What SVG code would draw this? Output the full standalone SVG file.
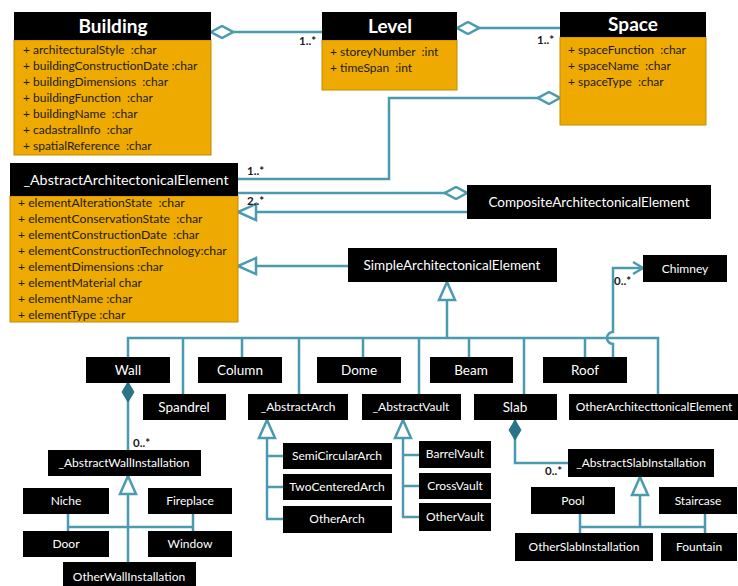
<svg xmlns="http://www.w3.org/2000/svg" width="738" height="586" viewBox="0 0 738 586">
<style>
.bg{fill:#ffffff}
.hdr{fill:#000000}
.body{fill:#eeaa00;stroke:#c48a00;stroke-width:1}
.node{fill:#000000}
.ttl{font-family:Lato,"Open Sans",sans-serif;font-size:19px;font-weight:bold;fill:#ffffff;text-anchor:middle}
.t{font-family:Lato,"Open Sans",sans-serif;font-size:13.5px;fill:#ffffff;text-anchor:middle}
.ts{font-family:Lato,"Open Sans",sans-serif;font-size:12px;fill:#ffffff;text-anchor:middle}
.at{font-family:Lato,"Open Sans",sans-serif;font-size:12px;fill:#1a1a1a;white-space:pre}
.at2{font-family:Lato,"Open Sans",sans-serif;font-size:12.2px;fill:#1a1a1a;white-space:pre}
.m{font-family:Lato,"Open Sans",sans-serif;font-size:11.5px;font-weight:bold;fill:#1a1a1a}
.ln{fill:none;stroke:#4a9bb0;stroke-width:2.5}
</style>
<defs>
<marker id="agg" markerUnits="userSpaceOnUse" markerWidth="24" markerHeight="14" viewBox="-1 -1 24 14" refX="0" refY="6" orient="auto">
<polygon points="0,6 11,0 22,6 11,12" fill="#ffffff" stroke="#4a9bb0" stroke-width="2.5"/>
</marker>
<marker id="comp" markerUnits="userSpaceOnUse" markerWidth="22" markerHeight="14" viewBox="-1 -1 22 14" refX="0" refY="6" orient="auto">
<polygon points="0,6 10,0 20,6 10,12" fill="#2b7386" stroke="#2b7386" stroke-width="1"/>
</marker>
<marker id="gen" markerUnits="userSpaceOnUse" markerWidth="22" markerHeight="20" viewBox="-2 -2 22 20" refX="18" refY="8" orient="auto">
<polygon points="0,0 18,8 0,16" fill="#ffffff" stroke="#4a9bb0" stroke-width="2.5"/>
</marker>
<marker id="arr" markerUnits="userSpaceOnUse" markerWidth="14" markerHeight="16" viewBox="-2 -2 14 16" refX="10" refY="6" orient="auto">
<polyline points="0,0 10,6 0,12" fill="none" stroke="#4a9bb0" stroke-width="2.5"/>
</marker>
</defs>
<rect class="bg" x="0" y="0" width="738" height="586"/>

<g id="connectors">
<path class="ln" d="M211,32 H322" marker-start="url(#agg)"/>
<path class="ln" d="M457,28 H560" marker-start="url(#agg)"/>
<path class="ln" d="M560,98 H389 V179 H238" marker-start="url(#agg)"/>
<path class="ln" d="M467,193 H238" marker-start="url(#agg)"/>
<path class="ln" d="M467,212 H238" marker-end="url(#gen)"/>
<path class="ln" d="M348,266 H238" marker-end="url(#gen)"/>
<path class="ln" d="M128,357 V338 H658 V394"/>
<path class="ln" d="M183,338 V394 M242,338 V357 M299,338 V394 M363,338 V357 M419,338 V394 M469,338 V357 M524,338 V394 M585,338 V357"/>
<path class="ln" d="M447,338 V282" marker-end="url(#gen)"/>
<path class="ln" d="M613,357 V344 A6,6 0 0 1 613,332 V268 H643" marker-end="url(#arr)"/>
<path class="ln" d="M128,382 V450" marker-start="url(#comp)"/>
<path class="ln" d="M128,562 V476" marker-end="url(#gen)"/>
<path class="ln" d="M68,514 V531 M193,514 V531 M68,527 H193"/>
<path class="ln" d="M267,519 V420" marker-end="url(#gen)"/>
<path class="ln" d="M267,456 H283 M267,487 H283 M266,519 H283"/>
<path class="ln" d="M403,517 V420" marker-end="url(#gen)"/>
<path class="ln" d="M403,455 H419 M403,486 H419 M402,517 H419"/>
<path class="ln" d="M515,420 V463 H568" marker-start="url(#comp)"/>
<path class="ln" d="M640,527 V477" marker-end="url(#gen)"/>
<path class="ln" d="M580,514 V533 M705,514 V533 M580,527 H705"/>
<text class="m" x="299" y="45">1..*</text>
<text class="m" x="537" y="44">1..*</text>
<text class="m" x="247" y="175">1..*</text>
<text class="m" x="247" y="205">2..*</text>
<text class="m" x="614" y="285">0..*</text>
<text class="m" x="133" y="447">0..*</text>
<text class="m" x="545" y="475">0..*</text>
</g>

<g id="Building">
<rect class="body" x="14" y="40" width="197" height="115"/>
<rect class="hdr" x="14" y="12" width="197" height="28"/>
<text class="ttl" x="113" y="33">Building</text>
<text class="at" x="23" y="54">+ architecturalStyle  :char</text>
<text class="at" x="23" y="70">+ buildingConstructionDate :char</text>
<text class="at" x="23" y="86">+ buildingDimensions  :char</text>
<text class="at" x="23" y="102">+ buildingFunction  :char</text>
<text class="at" x="23" y="118">+ buildingName  :char</text>
<text class="at" x="23" y="134">+ cadastralInfo  :char</text>
<text class="at" x="23" y="150">+ spatialReference  :char</text>
</g>

<g id="Level">
<rect class="body" x="322" y="40" width="135" height="50"/>
<rect class="hdr" x="322" y="12" width="135" height="28"/>
<text class="ttl" x="390" y="33">Level</text>
<text class="at" x="330" y="56">+ storeyNumber  :int</text>
<text class="at" x="330" y="72">+ timeSpan  :int</text>
</g>

<g id="Space">
<rect class="body" x="560" y="37" width="146" height="88"/>
<rect class="hdr" x="560" y="12" width="146" height="25"/>
<text class="ttl" x="633" y="31">Space</text>
<text class="at" x="568" y="54">+ spaceFunction  :char</text>
<text class="at" x="568" y="70">+ spaceName  :char</text>
<text class="at" x="568" y="86">+ spaceType  :char</text>
</g>

<g id="AbstractArchitectonicalElement">
<rect class="body" x="10" y="196" width="228" height="126"/>
<rect class="hdr" x="10" y="163" width="228" height="33"/>
<text class="t" x="126" y="185" style="font-size:14.3px">_AbstractArchitectonicalElement</text>
<text class="at2" x="18" y="207">+ elementAlterationState  :char</text>
<text class="at2" x="18" y="223">+ elementConservationState  :char</text>
<text class="at2" x="18" y="239">+ elementConstructionDate  :char</text>
<text class="at2" x="18" y="255">+ elementConstructionTechnology:char</text>
<text class="at2" x="18" y="271">+ elementDimensions :char</text>
<text class="at2" x="18" y="287">+ elementMaterial char</text>
<text class="at2" x="18" y="303">+ elementName :char</text>
<text class="at2" x="18" y="319">+ elementType :char</text>
</g>

<g id="CompositeArchitectonicalElement">
<rect class="node" x="467" y="185" width="244" height="34"/>
<text class="t" x="589" y="207">CompositeArchitectonicalElement</text>
</g>

<g id="SimpleArchitectonicalElement">
<rect class="node" x="348" y="248" width="209" height="34"/>
<text class="t" x="452" y="270">SimpleArchitectonicalElement</text>
</g>

<g id="Chimney">
<rect class="node" x="643" y="255" width="84" height="27"/>
<text class="ts" x="685" y="273">Chimney</text>
</g>

<g id="Wall"><rect class="node" x="86" y="357" width="84" height="26"/><text class="t" x="128" y="375">Wall</text></g>
<g id="Column"><rect class="node" x="198" y="357" width="84" height="26"/><text class="t" x="240" y="375">Column</text></g>
<g id="Dome"><rect class="node" x="317" y="357" width="84" height="26"/><text class="t" x="359" y="375">Dome</text></g>
<g id="Beam"><rect class="node" x="430" y="357" width="83" height="26"/><text class="t" x="471" y="375">Beam</text></g>
<g id="Roof"><rect class="node" x="543" y="357" width="84" height="26"/><text class="t" x="585" y="375">Roof</text></g>

<g id="Spandrel"><rect class="node" x="143" y="394" width="83" height="26"/><text class="t" x="184" y="412">Spandrel</text></g>
<g id="AbstractArch"><rect class="node" x="248" y="394" width="100" height="26"/><text class="ts" x="298" y="411">_AbstractArch</text></g>
<g id="AbstractVault"><rect class="node" x="362" y="394" width="99" height="26"/><text class="ts" x="411" y="411">_AbstractVault</text></g>
<g id="Slab"><rect class="node" x="474" y="394" width="83" height="26"/><text class="t" x="515" y="412">Slab</text></g>
<g id="OtherArchitecttonicalElement"><rect class="node" x="569" y="394" width="169" height="26"/><text class="ts" x="654" y="411">OtherArchitecttonicalElement</text></g>

<g id="AbstractWallInstallation"><rect class="node" x="48" y="450" width="153" height="26"/><text class="ts" x="124" y="467">_AbstractWallInstallation</text></g>
<g id="Niche"><rect class="node" x="23" y="488" width="86" height="26"/><text class="ts" x="66" y="505">Niche</text></g>
<g id="Fireplace"><rect class="node" x="148" y="488" width="84" height="26"/><text class="ts" x="190" y="505">Fireplace</text></g>
<g id="Door"><rect class="node" x="23" y="531" width="86" height="26"/><text class="ts" x="66" y="548">Door</text></g>
<g id="Window"><rect class="node" x="148" y="531" width="84" height="26"/><text class="ts" x="190" y="548">Window</text></g>
<g id="OtherWallInstallation"><rect class="node" x="63" y="562" width="133" height="26"/><text class="ts" x="129" y="581">OtherWallInstallation</text></g>

<g id="SemiCircularArch"><rect class="node" x="283" y="443" width="109" height="26"/><text class="ts" x="337" y="460">SemiCircularArch</text></g>
<g id="TwoCenteredArch"><rect class="node" x="283" y="474" width="109" height="26"/><text class="ts" x="337" y="491">TwoCenteredArch</text></g>
<g id="OtherArch"><rect class="node" x="283" y="506" width="109" height="27"/><text class="ts" x="337" y="523">OtherArch</text></g>

<g id="BarrelVault"><rect class="node" x="419" y="441" width="72" height="27"/><text class="ts" x="455" y="458">BarrelVault</text></g>
<g id="CrossVault"><rect class="node" x="419" y="473" width="72" height="26"/><text class="ts" x="455" y="490">CrossVault</text></g>
<g id="OtherVault"><rect class="node" x="419" y="503" width="72" height="28"/><text class="ts" x="455" y="521">OtherVault</text></g>

<g id="AbstractSlabInstallation"><rect class="node" x="568" y="449" width="146" height="28"/><text class="ts" x="641" y="467">_AbstractSlabInstallation</text></g>
<g id="Pool"><rect class="node" x="531" y="487" width="84" height="27"/><text class="ts" x="573" y="505">Pool</text></g>
<g id="Staircase"><rect class="node" x="659" y="487" width="78" height="27"/><text class="ts" x="698" y="505">Staircase</text></g>
<g id="OtherSlabInstallation"><rect class="node" x="515" y="533" width="138" height="28"/><text class="ts" x="584" y="551">OtherSlabInstallation</text></g>
<g id="Fountain"><rect class="node" x="661" y="533" width="76" height="28"/><text class="ts" x="699" y="551">Fountain</text></g>
</svg>
